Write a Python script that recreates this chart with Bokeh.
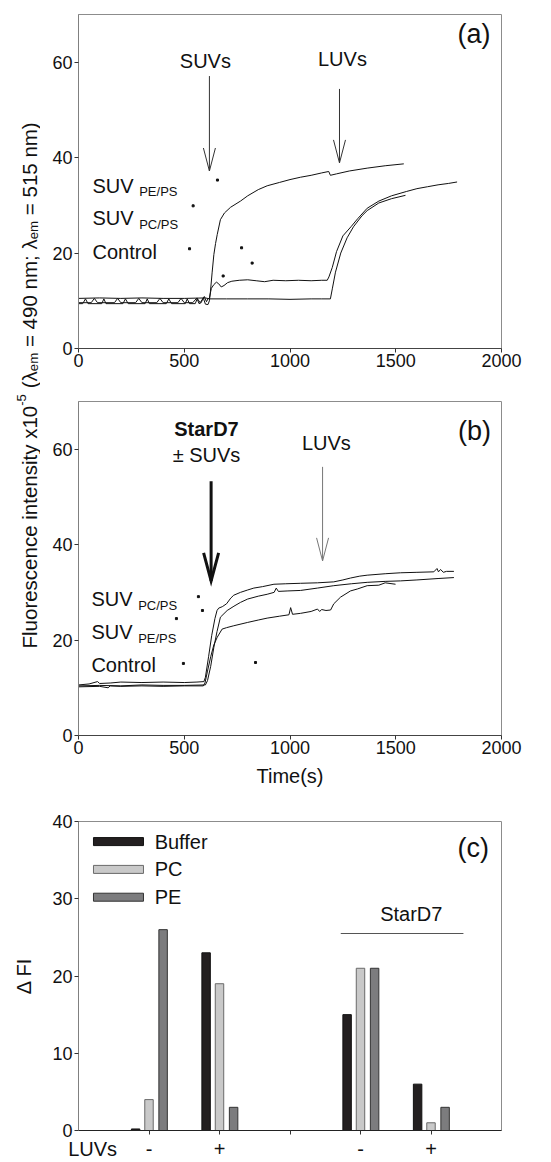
import math
from bokeh.plotting import figure
from bokeh.layouts import column, row
from bokeh.models import Label, Range1d, FixedTicker
from bokeh.embed import file_html
from bokeh.resources import INLINE

FONT = "Liberation Sans"
INK = "#111111"

# ---------------- data ----------------
# (a) fluorescence traces: time (s) and intensity (x10^-5)
time_a_pe = [0, 20, 33, 45, 110, 120, 130, 210, 222, 235, 315, 325, 335, 415, 427, 440,
             505, 514, 525, 552, 561, 570, 580, 590, 600, 612, 619, 624, 632, 640, 648, 656,
             671, 690, 719, 766, 800, 850, 892, 950, 1000, 1050, 1100, 1150, 1183, 1191,
             1220, 1280, 1365, 1450, 1538]
fi_a_pe = [9.4, 9.4, 10.4, 9.4, 9.4, 10.4, 9.4, 9.4, 10.4, 9.4, 9.4, 10.4, 9.4, 9.4, 10.4, 9.4,
           9.4, 10.4, 9.4, 9.4, 10.4, 9.4, 9.6, 10.6, 9.3, 9.2, 10.0, 12.0, 16.0, 19.7, 22.0, 23.9,
           27.0, 28.4, 29.6, 30.9, 32.0, 33.3, 34.1, 34.8, 35.4, 35.9, 36.3, 36.8, 37.1, 36.3,
           36.6, 37.2, 37.8, 38.3, 38.7]

time_a_pc = [0, 60, 75, 90, 170, 185, 200, 270, 285, 300, 370, 385, 400, 470, 485, 500,
             540, 560, 575, 595, 605, 612, 619, 628, 640, 652, 662, 675, 688, 705, 725, 760,
             800, 840, 880, 920, 980, 1040, 1100, 1150, 1176, 1184, 1200, 1220, 1250, 1290,
             1320, 1365, 1420, 1480, 1550, 1600, 1650, 1700, 1750, 1790]
fi_a_pc = [9.6, 9.6, 10.5, 9.6, 9.6, 10.5, 9.6, 9.6, 10.5, 9.6, 9.6, 10.5, 9.6, 9.6, 10.5, 9.6,
           9.6, 10.6, 9.6, 10.9, 9.8, 10.4, 10.6, 12.6, 13.4, 13.9, 13.6, 12.9, 13.2, 13.8, 14.1, 14.3,
           14.4, 14.2, 14.0, 14.3, 14.2, 14.3, 14.2, 14.3, 14.3, 15.0, 17.0, 20.3, 23.6, 25.6,
           27.2, 29.4, 30.9, 32.0, 32.9, 33.5, 33.9, 34.3, 34.6, 34.9]

time_a_ctl = [0, 100, 200, 300, 400, 500, 600, 620, 700, 800, 900, 1000, 1100, 1150, 1191,
              1200, 1215, 1240, 1270, 1300, 1340, 1365, 1420, 1480, 1546]
fi_a_ctl = [10.5, 10.6, 10.5, 10.6, 10.5, 10.5, 10.6, 10.4, 10.4, 10.4, 10.4, 10.3, 10.4, 10.4, 10.4,
            12.5, 16.0, 20.0, 23.2, 25.5, 27.8, 28.9, 30.5, 31.4, 32.1]

dots_a_t = [657, 542, 525, 771, 821, 684]
dots_a_fi = [35.3, 29.9, 20.9, 21.1, 17.9, 15.2]

# (b) StarD7 added with or without SUVs
time_b_pc = [0, 50, 90, 100, 150, 200, 300, 400, 500, 560, 593, 600, 615, 630, 645, 655, 663,
             680, 700, 720, 734, 766, 800, 829, 870, 924, 980, 1050, 1130, 1207, 1250, 1286,
             1330, 1365, 1450, 1522, 1600, 1680, 1695, 1702, 1712, 1725, 1740, 1775]
fi_b_pc = [10.6, 10.8, 11.3, 10.9, 11.0, 11.2, 11.1, 11.2, 11.1, 11.2, 11.3, 12.2, 16.5, 21.0, 24.5,
           26.2, 26.7, 27.0, 27.6, 28.8, 29.4, 30.0, 30.5, 30.9, 31.2, 31.7, 31.8, 31.9, 32.0, 32.2,
           32.6, 33.0, 33.4, 33.6, 33.9, 34.1, 34.2, 34.3, 35.0, 34.3, 34.8, 34.2, 34.4, 34.4]

time_b_pe = [0, 100, 200, 300, 400, 500, 600, 610, 625, 640, 655, 671, 703, 735, 766, 800, 850,
             892, 925, 935, 945, 990, 1050, 1130, 1207, 1290, 1365, 1450, 1522, 1600, 1700, 1775]
fi_b_pe = [10.4, 10.5, 10.4, 10.6, 10.5, 10.5, 10.6, 11.5, 14.5, 18.5, 21.8, 24.8, 26.2, 27.1, 27.9,
           28.6, 29.2, 29.6, 30.0, 30.9, 30.2, 30.3, 30.4, 30.9, 31.4, 31.8, 32.1, 32.3, 32.4, 32.6,
           32.9, 33.1]

time_b_ctl = [0, 100, 140, 150, 200, 300, 400, 500, 590, 598, 610, 625, 640, 656, 679, 700, 734,
              800, 850, 892, 950, 995, 1003, 1012, 1050, 1100, 1130, 1140, 1150, 1170, 1192, 1207,
              1239, 1286, 1318, 1365, 1420, 1450, 1499]
fi_b_ctl = [10.2, 10.3, 10.0, 10.4, 10.3, 10.4, 10.3, 10.4, 10.4, 11.0, 13.5, 16.5, 19.0, 20.6, 22.3,
            22.6, 23.0, 23.7, 24.2, 24.6, 25.0, 25.3, 26.8, 25.4, 25.6, 26.0, 26.5, 26.0, 26.4, 26.2,
            26.3, 27.6, 29.0, 30.3, 30.7, 31.4, 31.5, 32.0, 31.7]

dots_b_t = [567, 586, 463, 496, 837]
dots_b_fi = [29.1, 26.2, 24.5, 15.1, 15.3]

# (c) fluorescence change per condition
group_pos = [1, 2, 4, 5]
delta_buffer = [0.2, 23, 15, 6]
delta_pc = [4, 19, 21, 1]
delta_pe = [26, 3, 21, 3]
luv_marks = [1, 2, 3, 4, 5]
luv_label_pos = [0.2, 1, 2, 3, 4, 5]
luv_labels = ["LUVs", "-", "+", "", "-", "+"]

time_ticks = [0, 500, 1000, 1500, 2000]
fi_ticks = [0, 20, 40, 60]
delta_ticks = [0, 10, 20, 30, 40]

# ---------------- helpers ----------------
ARIAL_W = {"F": 611, "l": 222, "u": 556, "o": 556, "r": 333, "e": 556, "s": 500, "c": 500,
           "n": 556, " ": 278, "i": 222, "t": 278, "y": 500, "x": 500, "1": 556, "0": 556,
           "-": 333, "5": 556, "(": 333, ")": 333, "\u03bb": 500, "m": 833, "=": 584,
           "4": 556, "9": 556, ";": 278}


def text_width(s, size):
    return sum(ARIAL_W.get(ch, 556) for ch in s) * size / 1000.0


def lab(p, x, y, text, size, align="left", baseline="alphabetic", bold=False,
        angle=0.0, color=INK):
    p.add_layout(Label(x=x, y=y, text=text, text_font=FONT, text_font_size=f"{size}px",
                       text_align=align, text_baseline=baseline, angle=angle,
                       text_color=color,
                       text_font_style="bold" if bold else "normal"))


def style(p, xticks, yticks):
    p.grid.visible = False
    p.outline_line_color = "#8c8c8c"
    p.xaxis.ticker = FixedTicker(ticks=xticks)
    p.yaxis.ticker = FixedTicker(ticks=yticks)
    for ax in (p.xaxis, p.yaxis):
        ax.minor_tick_line_color = None
        ax.major_tick_in = 0
        ax.major_tick_out = 4
        ax.major_tick_line_color = "#333333"
        ax.major_label_text_font = FONT
        ax.major_label_text_font_size = "18px"
        ax.major_label_text_color = INK
    p.yaxis.axis_line_color = "#808080"
    p.xaxis.axis_line_color = "#444444"
    p.xaxis.major_label_standoff = 1
    p.yaxis.major_label_standoff = 2


X_PX = 2000 / 423.0   # data units per pixel, time axis
Y_PX = 70 / 334.0     # data units per pixel, intensity axis


def arrow(p, x, y_top, y_tip, head_len, head_half, width, color):
    dx = head_half * X_PX
    dy = head_len * Y_PX
    p.multi_line(xs=[[x, x], [x - dx, x, x + dx]], ys=[[y_top, y_tip], [y_tip + dy, y_tip, y_tip + dy]],
                 line_color=color, line_width=width, line_join="miter")


def trace_fig(height, top, bottom):
    p = figure(width=511, height=height, x_range=Range1d(0, 2000), y_range=Range1d(0, 70),
               output_backend="svg", toolbar_location=None,
               min_border_left=38, min_border_right=50, min_border_top=top, min_border_bottom=bottom)
    style(p, time_ticks, fi_ticks)
    return p


# ---------------- (a) ----------------
pa = trace_fig(380, 14, 32)
for t, f in ((time_a_pe, fi_a_pe), (time_a_pc, fi_a_pc), (time_a_ctl, fi_a_ctl)):
    pa.line(t, f, line_color=INK, line_width=1)
pa.scatter(dots_a_t, dots_a_fi, marker="square", size=2, color=INK)
arrow(pa, 619, 57.1, 37.2, 23, 6, 1, "#333333")
arrow(pa, 1234, 54.4, 38.9, 23, 6, 1, "#333333")
lab(pa, 600, 60.3, "SUVs", 20, "center", "middle")
lab(pa, 1248, 60.7, "LUVs", 20, "center", "middle")
lab(pa, 1870, 65.9, "(a)", 27, "center", "middle")
lab(pa, 66, 34.1, "SUV", 20)
lab(pa, 287, 32.8, "PE/PS", 13)
lab(pa, 66, 27.3, "SUV", 20)
lab(pa, 287, 26.0, "PC/PS", 13)
lab(pa, 66, 20.3, "Control", 20)

# ---------------- (b) ----------------
pb = trace_fig(413, 21, 58)
for t, f in ((time_b_pc, fi_b_pc), (time_b_pe, fi_b_pe), (time_b_ctl, fi_b_ctl)):
    pb.line(t, f, line_color=INK, line_width=1)
pb.scatter(dots_b_t, dots_b_fi, marker="square", size=2, color=INK)
arrow(pb, 627, 53.3, 32.4, 28, 7.5, 3, "#111111")
arrow(pb, 1154, 56.3, 36.6, 23, 6, 1, "#777777")
lab(pb, 605, 64.2, "StarD7", 20, "center", "middle", bold=True)
lab(pb, 605, 58.8, "\u00b1 SUVs", 20, "center", "middle")
lab(pb, 1172, 61.3, "LUVs", 20, "center", "middle")
lab(pb, 1872, 63.9, "(b)", 27, "center", "middle")
lab(pb, 61, 28.6, "SUV", 20)
lab(pb, 282, 27.3, "PC/PS", 13)
lab(pb, 61, 21.7, "SUV", 20)
lab(pb, 282, 20.4, "PE/PS", 13)
lab(pb, 61, 14.7, "Control", 20)
pb.xaxis.axis_label = "Time(s)"
pb.xaxis.axis_label_text_font = FONT
pb.xaxis.axis_label_text_font_size = "20px"
pb.xaxis.axis_label_text_font_style = "normal"
pb.xaxis.axis_label_text_color = INK
pb.xaxis.axis_label_standoff = 8

# ---------------- shared y title for (a) and (b) ----------------
TH = 380 + 413
pt = figure(width=40, height=TH, x_range=Range1d(0, 40), y_range=Range1d(0, TH),
            x_axis_type=None, y_axis_type=None, output_backend="svg", toolbar_location=None,
            min_border=0)
pt.grid.visible = False
pt.outline_line_color = None
MAIN, SMALL = 20.5, 13.3
BASE_X = 29
pieces = [("Fluorescence intensity x10", MAIN, 0), ("-5", SMALL, -8), (" (", MAIN, 0),
          ("\u03bb", MAIN, 0), ("em", SMALL, 4), (" = 490 nm;", MAIN, 0),
          (" \u03bb", MAIN, 0), ("em", SMALL, 4), (" = 515 nm)", MAIN, 0)]
yy = TH - 648
for txt, sz, shift in pieces:
    # leading blanks are not kept by the svg text, so advance past them instead
    body = txt.lstrip(" ")
    yy += text_width(txt[:len(txt) - len(body)], sz)
    lab(pt, BASE_X + shift, yy, body, sz, "left", "alphabetic", angle=math.pi / 2)
    yy += text_width(body, sz)

# ---------------- (c) ----------------
pc = figure(width=551, height=1162 - TH, x_range=Range1d(0, 6), y_range=Range1d(0, 40),
            output_backend="svg", toolbar_location=None,
            min_border_left=78, min_border_right=50, min_border_top=821 - TH, min_border_bottom=32)
style(pc, luv_label_pos, delta_ticks)
pc.xaxis.ticker = FixedTicker(ticks=luv_label_pos, minor_ticks=luv_marks)
pc.xaxis.major_label_overrides = {t: s for t, s in zip(luv_label_pos, luv_labels)}
pc.xaxis.major_tick_line_color = None
pc.xaxis.minor_tick_line_color = "#333333"
pc.xaxis.minor_tick_in = 0
pc.xaxis.minor_tick_out = 4
pc.xaxis.major_label_text_font_size = "20px"
pc.xaxis.major_label_standoff = 3
pc.xaxis.axis_line_color = "#222222"
pc.yaxis.axis_label = "\u0394 FI"
pc.yaxis.axis_label_text_font = FONT
pc.yaxis.axis_label_text_font_size = "20px"
pc.yaxis.axis_label_text_font_style = "normal"
pc.yaxis.axis_label_text_color = INK
pc.yaxis.axis_label_standoff = 14

BW = 0.12
series = [(delta_buffer, -0.19, "#231f20", "#111111", "Buffer"),
          (delta_pc, 0.0, "#c9c9c9", "#6a6a6a", "PC"),
          (delta_pe, 0.2, "#7c7c7e", "#333333", "PE")]
for vals, off, fill, line, name in series:
    pc.vbar(x=[g + off for g in group_pos], top=vals, width=BW, fill_color=fill, line_color=line,
            line_width=1)

# legend swatches
leg_y = [37.4, 33.8, 30.2]
for (vals, off, fill, line, name), ly in zip(series, leg_y):
    pc.rect(x=[0.567], y=[ly], width=50, height=8, width_units="screen", height_units="screen",
            fill_color=fill, line_color=line, line_width=1)
    lab(pc, 1.08, ly, name, 20, "left", "middle")

pc.line([3.72, 5.46], [25.5, 25.5], line_color="#555555", line_width=1)
lab(pc, 4.72, 28.0, "StarD7", 20, "center", "middle")
lab(pc, 5.60, 36.6, "(c)", 27, "center", "middle")

layout = column(row(pt, column(pa, pb)), pc)
open("out.html", "w").write(file_html(layout, INLINE))
